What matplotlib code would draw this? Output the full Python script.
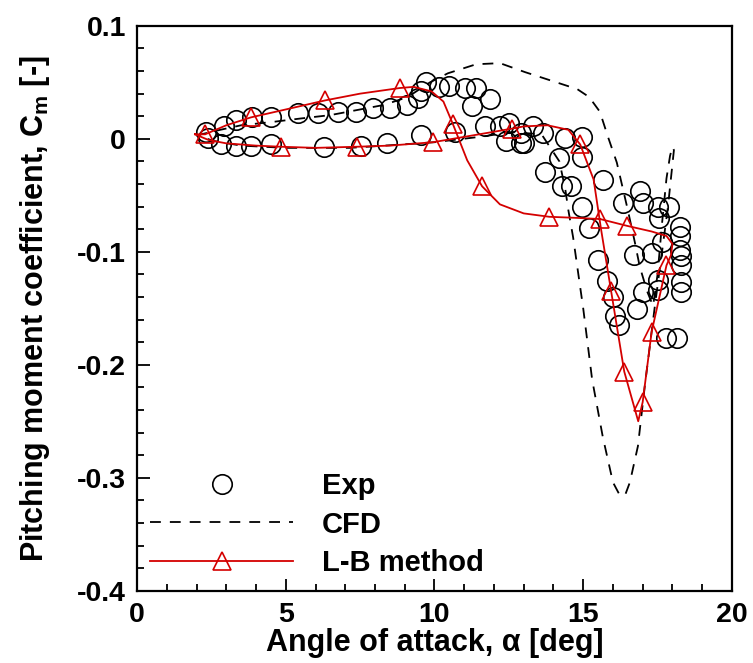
#!/usr/bin/env python

import matplotlib
matplotlib.use('Agg')
import matplotlib.pyplot as plt
from matplotlib.ticker import MultipleLocator

# experiment (circles)
exp_alpha = [2.32, 2.92, 3.32, 3.86, 4.5, 5.4, 6.1, 6.74, 7.35, 7.92, 8.49, 9.09, 9.43, 9.53, 9.70,
             10.15, 10.5, 11.04, 11.4, 11.27, 11.88,
             2.38, 2.82, 3.32, 3.83, 4.5, 6.28, 7.52, 8.39, 9.56,
             10.7, 11.7, 12.2, 12.5, 12.4, 12.9, 12.9, 13.3, 13.65, 13.0, 14.4, 14.96, 14.2, 14.96,
             13.7, 14.3, 14.6, 15.67, 14.96, 16.34, 16.9, 17.0, 17.5, 17.9, 17.55, 18.25, 18.25,
             15.2, 18.25, 18.28, 18.3, 17.65, 17.3, 16.7, 15.5, 15.8, 17.5, 17.5, 17.0, 18.3, 18.3,
             16.0, 16.8, 16.07, 16.2, 17.8, 18.15]
exp_cm = [0.006, 0.011, 0.017, 0.019, 0.019, 0.023, 0.023, 0.024, 0.024, 0.027, 0.027, 0.030, 0.036, 0.042, 0.050,
          0.046, 0.047, 0.045, 0.045, 0.029, 0.035,
          0.001, -0.005, -0.006, -0.006, -0.005, -0.007, -0.006, -0.004, 0.003,
          0.006, 0.011, 0.011, 0.014, -0.002, 0.005, -0.004, 0.011, 0.005, -0.004, 0.001, 0.002, -0.017, -0.016,
          -0.029, -0.042, -0.042, -0.036, -0.060, -0.057, -0.046, -0.057, -0.060, -0.060, -0.070, -0.078, -0.086,
          -0.079, -0.098, -0.104, -0.112, -0.091, -0.101, -0.103, -0.107, -0.126, -0.125, -0.134, -0.136, -0.127, -0.136,
          -0.140, -0.151, -0.157, -0.165, -0.176, -0.176]

# CFD (dashed)
cfd_alpha = [2.0, 2.8, 3.5, 4.57, 5.5, 6.5, 7.5, 8.3, 9.1, 9.85, 10.45, 11.4, 12.2, 13.05, 14.1, 14.8, 15.2,
             15.56, 15.83, 16.13, 16.5, 16.74, 16.9, 17.15, 17.35, 17.5, 17.65, 17.8, 17.92, 18.0, 18.05,
             17.97, 17.85, 17.65, 17.4, 17.07, 16.84, 16.57, 16.4, 16.2, 16.0, 15.66, 15.3, 15.0,
             14.8, 14.66, 14.5, 14.4, 14.2, 13.6, 12.6, 11.6, 10.0, 8.9, 7.16, 5.8, 5.0, 3.5, 2.6, 2.0]
cfd_cm = [0.003, 0.008, 0.012, 0.015, 0.018, 0.021, 0.026, 0.030, 0.037, 0.050, 0.058, 0.066, 0.067, 0.059, 0.050, 0.044, 0.037,
          0.024, 0.002, -0.021, -0.063, -0.092, -0.113, -0.135, -0.148, -0.12, -0.075, -0.035, -0.015, -0.007, -0.010,
          -0.03, -0.06, -0.10, -0.15, -0.219, -0.272, -0.304, -0.316, -0.314, -0.304, -0.264, -0.213, -0.15,
          -0.113, -0.087, -0.063, -0.045, -0.02, 0.004, 0.006, 0.002, -0.003, -0.005, -0.008, -0.008, -0.008, -0.006, -0.002, 0.003]

# L-B method (line with triangles)
lb_alpha = [1.95, 2.29, 3.0, 3.83, 5.0, 6.32, 7.5, 8.84, 9.3, 9.9, 10.3, 10.62, 11.1, 11.6, 12.2, 13.0, 13.86,
            14.8, 15.57, 16.47, 17.3, 17.8, 18.0, 17.95, 17.8, 17.3, 17.0, 16.85, 16.38, 15.94, 15.6, 15.35,
            14.9, 14.5, 13.8, 13.0, 12.6, 11.5, 9.95, 8.5, 7.39, 6.0, 4.84, 4.0, 3.0, 2.4, 1.95]
lb_cm = [0.004, 0.004, 0.012, 0.019, 0.026, 0.034, 0.040, 0.045, 0.046, 0.042, 0.033, 0.013, -0.019, -0.042, -0.058, -0.066, -0.069,
         -0.070, -0.071, -0.077, -0.082, -0.086, -0.093, -0.103, -0.112, -0.171, -0.233, -0.250, -0.206, -0.135, -0.08, -0.036,
         -0.005, 0.008, 0.012, 0.011, 0.009, 0.004, -0.003, -0.006, -0.007, -0.008, -0.007, -0.006, -0.004, -0.001, 0.004]
lb_marks = [1, 3, 5, 7, 11, 13, 16, 18, 19, 24, 25, 26, 28, 29, 32, 36, 38, 40, 42]

plt.rcParams['font.family'] = ['Liberation Sans', 'DejaVu Sans']
plt.rcParams['font.weight'] = 'bold'
plt.rcParams['mathtext.fontset'] = 'custom'
plt.rcParams['mathtext.rm'] = 'Liberation Sans'
plt.rcParams['mathtext.bf'] = 'Liberation Sans:bold'

fig = plt.figure(figsize=(7.53, 6.63), dpi=100)
ax = fig.add_axes([0.182, 0.109, 0.79, 0.852])

ax.plot(exp_alpha, exp_cm, 'o', ms=14, mfc='none', mec='black', mew=1.2, label='Exp')
ax.plot(cfd_alpha, cfd_cm, '--', color='black', lw=1.3, dashes=(6, 5), label='CFD')
ax.plot(lb_alpha, lb_cm, '-', color='#d40000', lw=1.3, marker='^', ms=13, mfc='none',
        mec='#d40000', mew=1.2, markevery=lb_marks, label='L-B method')

ax.set_xlim(0, 20)
ax.set_ylim(-0.4, 0.1)
ax.xaxis.set_major_locator(MultipleLocator(5))
ax.xaxis.set_minor_locator(MultipleLocator(1))
ax.yaxis.set_major_locator(MultipleLocator(0.1))
ax.yaxis.set_minor_locator(MultipleLocator(0.02))
ax.yaxis.set_major_formatter(plt.FuncFormatter(lambda v, p: '0' if abs(v) < 1e-9 else ('%.1f' % v)))
ax.tick_params(which='both', direction='in', top=False, right=False, labelsize=20.5, width=1.3, pad=8)
ax.tick_params(which='major', length=9)
ax.tick_params(which='minor', length=5)
for s in ax.spines.values():
    s.set_linewidth(1.6)

ax.set_xlabel(u'Angle of attack, \u03b1 [deg]', fontsize=22, fontweight='bold', labelpad=0)
ax.set_ylabel('Pitching moment coefficient, C$_\\mathbf{m}$ [-]', fontsize=22, fontweight='bold', labelpad=18)

ax.legend(loc='upper left', bbox_to_anchor=(0.022, 0.21), frameon=False,
          prop={'size': 21, 'weight': 'bold'},
          handlelength=4.9, handletextpad=1.0, labelspacing=0.36, borderpad=0, borderaxespad=0)

fig.savefig('out.png', dpi=100)
